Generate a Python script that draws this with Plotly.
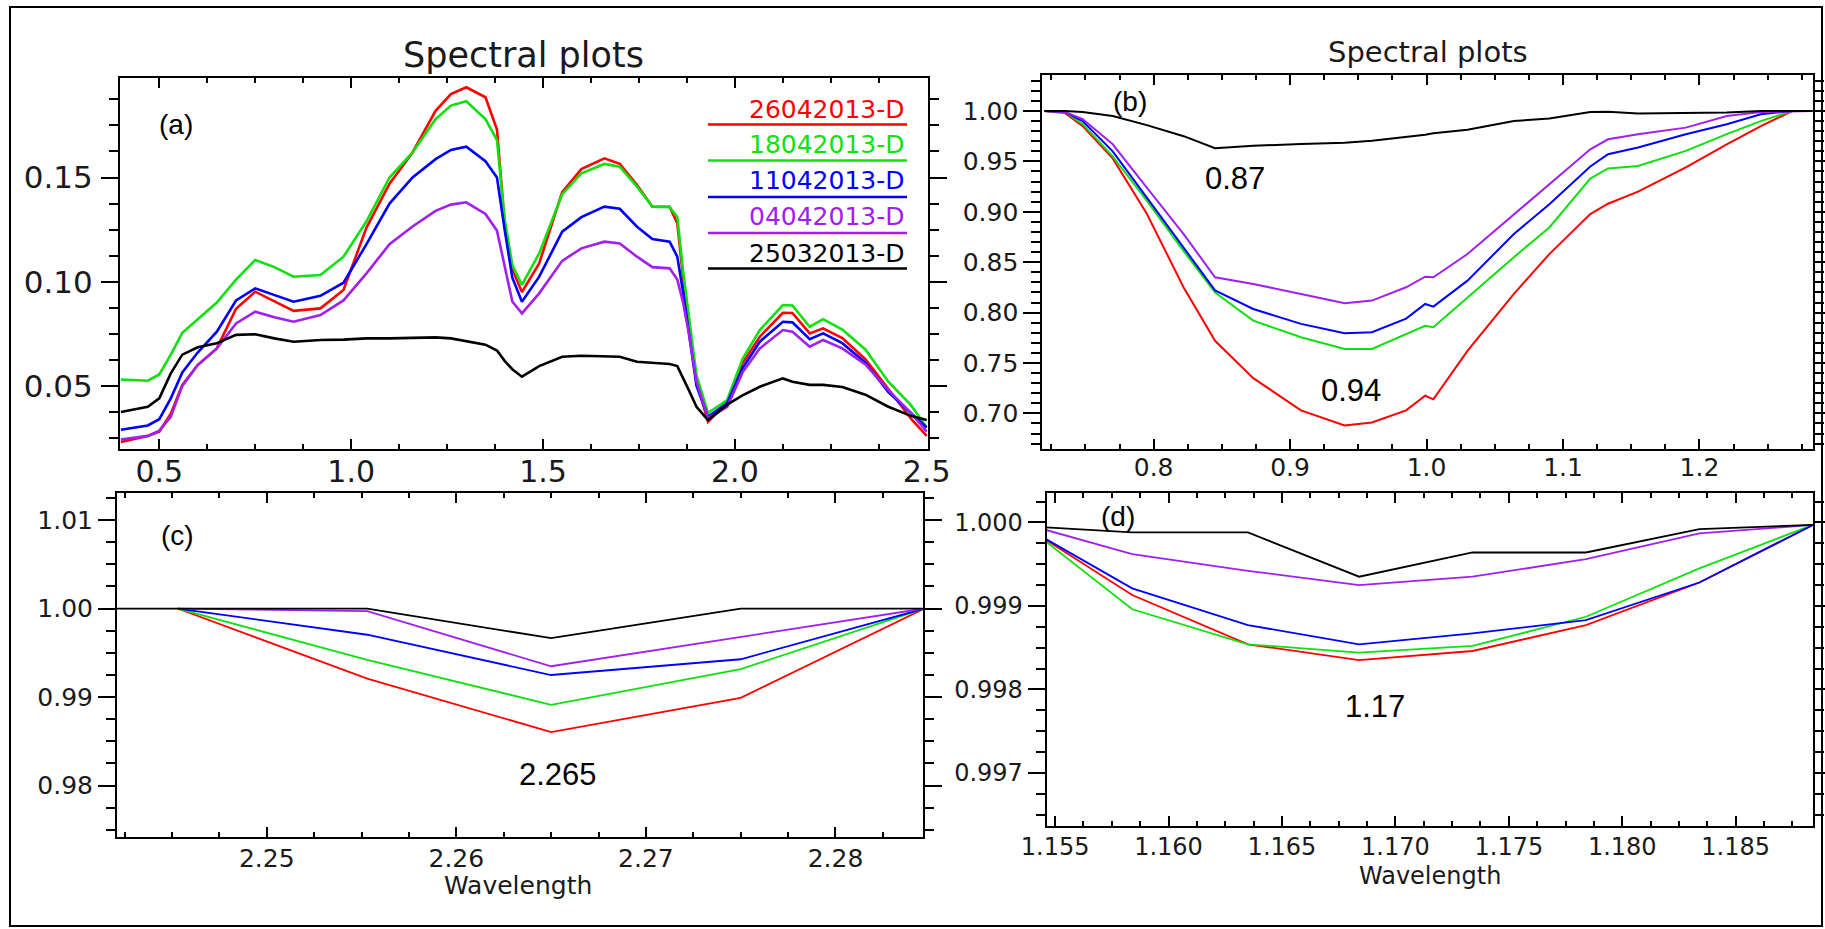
import plotly.graph_objects as go

# ---------------- data ----------------
series_names = ["26042013-D", "18042013-D", "11042013-D", "04042013-D", "25032013-D"]
series_colors = ["#ff0000", "#10e010", "#0000ff", "#a020f0", "#000000"]

# panel (a): full spectra
wl_a = [0.40, 0.47, 0.50, 0.53, 0.56, 0.60, 0.65, 0.70, 0.75, 0.80, 0.85, 0.92, 0.98,
        1.04, 1.10, 1.16, 1.22, 1.26, 1.30, 1.35, 1.38, 1.40, 1.42, 1.445, 1.49, 1.55,
        1.60, 1.66, 1.70, 1.745, 1.785, 1.83, 1.85, 1.865, 1.88, 1.90, 1.93, 1.98, 2.02,
        2.065, 2.125, 2.15, 2.195, 2.23, 2.28, 2.34, 2.40, 2.46, 2.50]
red_a = [0.0231, 0.026, 0.028, 0.0367, 0.0505, 0.060, 0.068, 0.087, 0.0952, 0.0904, 0.086,
         0.0872, 0.096, 0.126, 0.147, 0.162, 0.182, 0.190, 0.1933, 0.1885, 0.173, 0.128,
         0.106, 0.095, 0.1088, 0.143, 0.154, 0.1592, 0.1566, 0.1464, 0.136, 0.136, 0.128,
         0.102, 0.080, 0.052, 0.0328, 0.042, 0.061, 0.0736, 0.0851, 0.085, 0.0752, 0.0776,
         0.073, 0.0628, 0.0485, 0.034, 0.026]
green_a = [0.0531, 0.0525, 0.0555, 0.065, 0.0755, 0.082, 0.090, 0.101, 0.1104, 0.107, 0.1024,
           0.1032, 0.112, 0.129, 0.150, 0.162, 0.178, 0.1845, 0.1866, 0.178, 0.168, 0.130,
           0.108, 0.0985, 0.1136, 0.142, 0.152, 0.1565, 0.1552, 0.1456, 0.136, 0.1357, 0.131,
           0.105, 0.083, 0.055, 0.037, 0.0432, 0.063, 0.0768, 0.0888, 0.0886, 0.0784, 0.082,
           0.077, 0.0675, 0.052, 0.0405, 0.030]
blue_a = [0.029, 0.031, 0.034, 0.044, 0.0565, 0.066, 0.076, 0.091, 0.0968, 0.0936, 0.0904,
          0.0932, 0.0995, 0.118, 0.1375, 0.150, 0.1588, 0.1632, 0.1648, 0.1578, 0.150, 0.125,
          0.102, 0.0904, 0.1024, 0.124, 0.131, 0.136, 0.135, 0.1264, 0.1205, 0.1192, 0.112,
          0.095, 0.0752, 0.050, 0.0352, 0.0418, 0.0585, 0.0712, 0.0808, 0.0805, 0.0724,
          0.0752, 0.0705, 0.0612, 0.047, 0.037, 0.030]
purple_a = [0.0242, 0.026, 0.0285, 0.0351, 0.050, 0.060, 0.068, 0.080, 0.0856, 0.0829, 0.0808,
            0.084, 0.091, 0.104, 0.118, 0.1265, 0.134, 0.137, 0.1381, 0.1325, 0.1245, 0.108,
            0.0905, 0.0848, 0.0944, 0.110, 0.116, 0.1192, 0.1183, 0.112, 0.107, 0.1064, 0.101,
            0.090, 0.0752, 0.052, 0.0345, 0.040, 0.0565, 0.068, 0.0768, 0.076, 0.0688, 0.072,
            0.068, 0.0603, 0.048, 0.0368, 0.028]
black_a = [0.0375, 0.040, 0.044, 0.056, 0.065, 0.0685, 0.0705, 0.0745, 0.0748, 0.0728, 0.0712,
           0.072, 0.0722, 0.0728, 0.0728, 0.073, 0.0733, 0.0728, 0.0715, 0.0698, 0.067, 0.062,
           0.058, 0.0544, 0.0595, 0.064, 0.0645, 0.064, 0.064, 0.0616, 0.061, 0.0605, 0.0595,
           0.054, 0.048, 0.040, 0.0336, 0.041, 0.0455, 0.0496, 0.0536, 0.052, 0.0505, 0.0505,
           0.0495, 0.0458, 0.040, 0.0355, 0.0336]

# panel (b): continuum removed around 0.94
wl_b = [0.72, 0.735, 0.748, 0.77, 0.795, 0.822, 0.845, 0.873, 0.908, 0.94, 0.96, 0.985, 0.999,
        1.005, 1.03, 1.064, 1.09, 1.12, 1.133, 1.155, 1.19, 1.22, 1.245, 1.268, 1.283]
red_b = [1.0, 0.998, 0.985, 0.953, 0.898, 0.825, 0.772, 0.735, 0.703, 0.688, 0.691, 0.703,
         0.7175, 0.714, 0.762, 0.8185, 0.858, 0.8977, 0.908, 0.920, 0.944, 0.967, 0.985, 1.0, 1.0]
green_b = [1.0, 0.999, 0.987, 0.955, 0.911, 0.861, 0.820, 0.792, 0.7756, 0.764, 0.764, 0.779,
           0.787, 0.7855, 0.815, 0.855, 0.8845, 0.933, 0.943, 0.9455, 0.9604, 0.977, 0.990, 1.0, 1.0]
blue_b = [1.0, 0.999, 0.990, 0.960, 0.914, 0.8647, 0.822, 0.8036, 0.7888, 0.7795, 0.7805, 0.794,
          0.8086, 0.8059, 0.8317, 0.8779, 0.9076, 0.945, 0.9571, 0.9637, 0.9769, 0.9868, 0.9967,
          1.0, 1.0]
purple_b = [1.0, 0.999, 0.992, 0.967, 0.924, 0.8779, 0.835, 0.8284, 0.8185, 0.8092, 0.8119,
            0.8251, 0.8356, 0.835, 0.8581, 0.8977, 0.9274, 0.962, 0.9719, 0.9769, 0.9835, 0.995,
            0.999, 1.0, 1.0]
black_b = [1.0, 1.0, 0.999, 0.995, 0.986, 0.975, 0.963, 0.9655, 0.9672, 0.9685, 0.9705, 0.974,
           0.9765, 0.978, 0.9815, 0.990, 0.9925, 0.999, 0.9992, 0.9975, 0.998, 0.9985, 1.0, 1.0, 1.0]

# panel (c): around 2.265
wl_c = [2.2421, 2.2453, 2.2553, 2.265, 2.275, 2.2847]
red_c = [None, 1.0, 0.99209, 0.98605, 0.98992, 1.0]
green_c = [None, 1.0, 0.9942, 0.98913, 0.99316, 1.0]
blue_c = [None, 1.0, 0.99704, 0.99249, 0.99427, 1.0]
purple_c = [None, 1.0, 0.9997, 0.99348, 0.99676, 1.0]
black_c = [1.0, 1.0, 1.0, 0.99665, 1.0, 1.0]

# panel (d): around 1.17
wl_d = [1.1546, 1.1584, 1.1635, 1.1684, 1.1734, 1.1784, 1.1834, 1.1884]
red_d = [0.99979, 0.99913, 0.99854, 0.99835, 0.99846, 0.99877, 0.99928, 0.99997]
green_d = [0.99977, 0.99896, 0.99854, 0.99844, 0.99852, 0.99887, 0.99945, 0.99997]
blue_d = [0.99980, 0.99921, 0.99877, 0.99854, 0.99867, 0.99883, 0.99928, 0.99997]
purple_d = [0.99991, 0.99962, 0.99942, 0.99925, 0.99935, 0.99956, 0.99987, 0.99997]
black_d = [0.99994, 0.99988, 0.99988, 0.99935, 0.99964, 0.99964, 0.99992, 0.99997]

panels = [
    (wl_a, [red_a, green_a, blue_a, purple_a, black_a], 2.6),
    (wl_b, [red_b, green_b, blue_b, purple_b, black_b], 2.0),
    (wl_c, [red_c, green_c, blue_c, purple_c, black_c], 1.8),
    (wl_d, [red_d, green_d, blue_d, purple_d, black_d], 1.8),
]

# ---------------- layout helpers ----------------
W, H = 1825, 929
def px(x):
    return x / W
def py(y):
    return 1 - y / H

HERSHEY = "DejaVu Sans"
TXT = "#1a1a1a"

fig = go.Figure()
for i, (wl, ys, lw) in enumerate(panels, start=1):
    for name, col, yv in zip(series_names, series_colors, ys):
        fig.add_trace(go.Scatter(
            x=wl, y=yv, mode="lines", name=name, showlegend=False,
            line=dict(color=col, width=lw, shape="linear"),
            xaxis="x" if i == 1 else f"x{i}", yaxis="y" if i == 1 else f"y{i}",
            connectgaps=False, hoverinfo="x+y+name"))

def xax(dom, rng, dtick, mdtick, fmt, fs, anchor, standoff):
    return dict(domain=[px(dom[0]), px(dom[1])], range=rng, anchor=anchor,
                automargin=False,
                showgrid=False, zeroline=False, showline=True, linecolor="black",
                linewidth=2, mirror="allticks", ticks="inside", ticklen=10,
                tickwidth=2, tickcolor="black", tick0=0, dtick=dtick, tickformat=fmt,
                ticklabelstandoff=standoff,
                tickfont=dict(family=HERSHEY, size=fs, color=TXT),
                minor=dict(ticks="inside", ticklen=5, tickwidth=1.5, tickcolor="black",
                           dtick=mdtick, tick0=0, showgrid=False))

def yax(dom, rng, dtick, mdtick, fmt, fs, anchor, standoff):
    return dict(domain=[py(dom[1]), py(dom[0])], range=rng, anchor=anchor,
                automargin=False,
                showgrid=False, zeroline=False, showline=True, linecolor="black",
                linewidth=2, mirror="allticks", ticks="outside", ticklen=17,
                tickwidth=2, tickcolor="black", tick0=0, dtick=dtick, tickformat=fmt,
                ticklabelstandoff=standoff,
                tickfont=dict(family=HERSHEY, size=fs, color=TXT),
                minor=dict(ticks="outside", ticklen=9, tickwidth=1.5, tickcolor="black",
                           dtick=mdtick, tick0=0, showgrid=False))

layout = dict(
    width=W, height=H, autosize=False,
    margin=dict(l=0, r=0, t=0, b=0, pad=0, autoexpand=False),
    paper_bgcolor="white", plot_bgcolor="white",
    xaxis=xax((120, 927.5), [0.3976, 2.502], 0.5, 0.125, ".1f", 30, "y", -5),
    yaxis=yax((78, 449), [0.01972, 0.19775], 0.05, 0.0125, ".2f", 31, "x", 2),
    xaxis2=xax((1042.3, 1812.7), [0.7184, 1.283], 0.1, 0.025, ".1f", 25, "y2", -5),
    yaxis2=yax((75, 449.3), [0.6644, 1.0357], 0.05, 0.01, ".2f", 25, "x2", 0),
    xaxis3=xax((117, 922.7), [2.2421, 2.2846], 0.01, 0.0025, ".2f", 25, "y3", -2),
    yaxis3=yax((493, 837.3), [0.97416, 1.01305], 0.01, 0.0025, ".2f", 25, "x3", 0),
    xaxis4=xax((1046.7, 1813.3), [1.15463, 1.18842], 0.005, 0.00125, ".3f", 24, "y4", -2),
    yaxis4=yax((493.3, 825.7), [0.996367, 1.000349], 0.001, 0.00025, ".3f", 24, "x4", 0),
)

annotations = []
def ann(text, x, y, size, family, color="black", xanchor="center", yanchor="middle"):
    annotations.append(dict(text=text, x=px(x), y=py(y), xref="paper", yref="paper",
                            showarrow=False, xanchor=xanchor, yanchor=yanchor,
                            font=dict(family=family, size=size, color=color)))

# titles
ann("Spectral plots", 523.5, 55, 35, HERSHEY, TXT)
ann("Spectral plots", 1427.5, 52, 29, HERSHEY, TXT)
# axis titles
ann("Wavelength", 518, 885, 25, HERSHEY, TXT)
ann("Wavelength", 1430, 876, 24, HERSHEY, TXT)
# panel letters and band annotations
ARIAL = "Liberation Sans"
ann("(a)", 176, 125, 28, ARIAL)
ann("(b)", 1130, 102, 28, ARIAL)
ann("(c)", 177, 535, 28, ARIAL)
ann("(d)", 1118, 516, 28, ARIAL)
ann("0.87", 1235, 179, 31, ARIAL)
ann("0.94", 1351, 390, 31, ARIAL)
ann("2.265", 558, 774, 31, ARIAL)
ann("1.17", 1375, 706, 31, ARIAL)

# legend (text with underline)
legend_text_y = [110, 145, 181, 217, 254]
legend_line_y = [124.5, 160.5, 197, 233, 268.5]
shapes = []
for name, col, ty, ly in zip(series_names, series_colors, legend_text_y, legend_line_y):
    ann(name, 907, ty, 25, HERSHEY, col, xanchor="right")
    shapes.append(dict(type="line", xref="paper", yref="paper", x0=px(708), x1=px(907),
                       y0=py(ly), y1=py(ly), line=dict(color=col, width=2.5)))

# outer frame
shapes.append(dict(type="rect", xref="paper", yref="paper", x0=px(10), x1=px(1822),
                   y0=py(926), y1=py(7), line=dict(color="black", width=2),
                   fillcolor="rgba(0,0,0,0)", layer="below"))

layout["annotations"] = annotations
layout["shapes"] = shapes
fig.update_layout(**layout)
fig.write_html("out.html")
